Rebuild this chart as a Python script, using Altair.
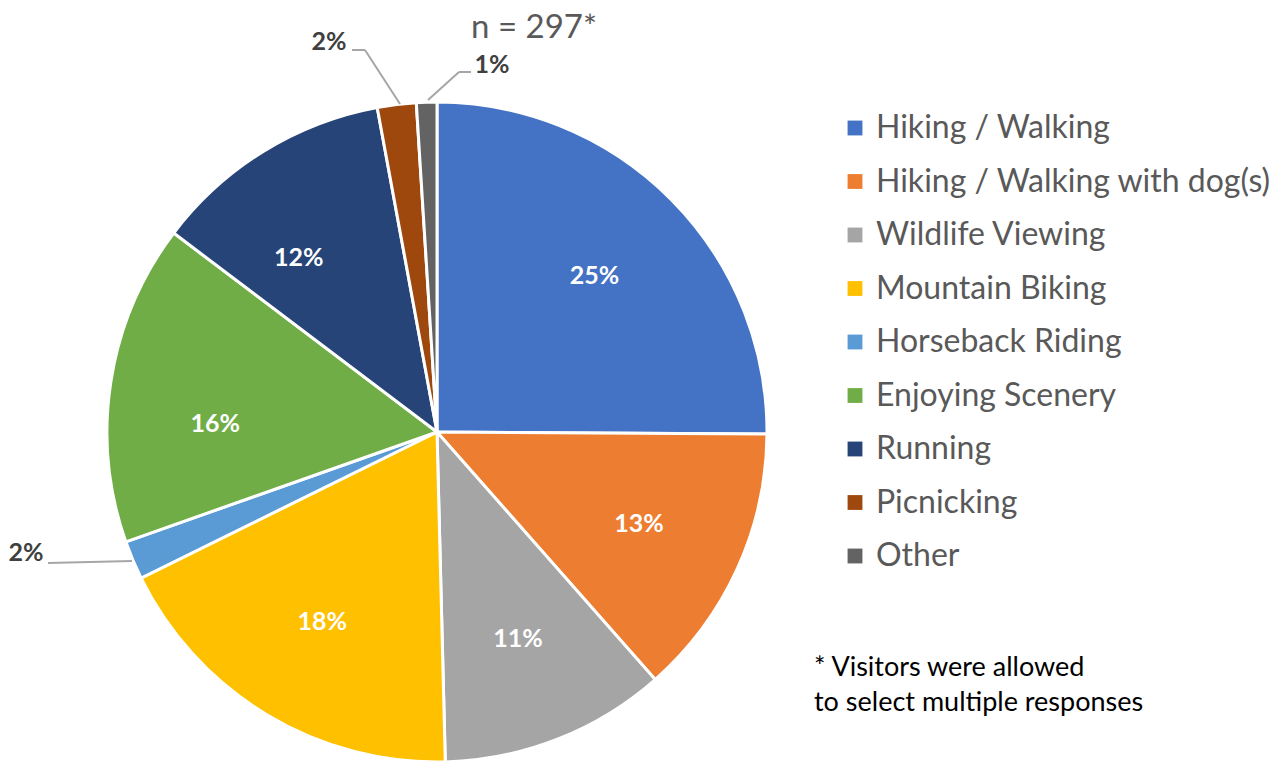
import altair as alt
import pandas as pd

categories = ["Hiking / Walking", "Hiking / Walking with dog(s)", "Wildlife Viewing",
              "Mountain Biking", "Horseback Riding", "Enjoying Scenery", "Running",
              "Picnicking", "Other"]
values = [25.1, 13.4, 11.1, 18.1, 1.9, 15.7, 11.8, 1.9, 1.0]
colors = ["#4472C4", "#ED7D31", "#A5A5A5", "#FFC000", "#5B9BD5", "#70AD47",
          "#264478", "#9E480E", "#636363"]
n_label = "n = 297*"
footnote = ["* Visitors were allowed", "to select multiple responses"]

df = pd.DataFrame({
    "category": categories,
    "value": values,
    "idx": list(range(len(categories))),
    "label": [f"{round(v)}%" for v in values],
})

CX, CY = 429, 424
R = 330
FONT = "Lato"

base = alt.Chart(df).encode(
    theta=alt.Theta("value:Q", stack=True),
    order=alt.Order("idx:Q", sort="ascending"),
    x=alt.value(CX),
    y=alt.value(CY),
)

pie = base.mark_arc(outerRadius=R, stroke="white", strokeWidth=3).encode(
    color=alt.Color(
        "category:N",
        scale=alt.Scale(domain=categories, range=colors),
        sort=categories,
        legend=alt.Legend(
            title=None, orient="none", legendX=831, legendY=104,
            symbolType="square", symbolSize=220, symbolStrokeWidth=0,
            labelFont=FONT, labelFontSize=32, labelColor="#595959",
            rowPadding=21.5, labelOffset=5, padding=0, labelLimit=600,
        ),
    )
)

inside = base.mark_text(radius=222, font=FONT, fontSize=25, fontWeight="bold",
                        color="white").encode(
    text="label:N"
).transform_filter(alt.datum.value >= 5)

def outside(cat, x, y):
    return alt.Chart(df).transform_filter(alt.datum.category == cat).mark_text(
        font=FONT, fontSize=25, fontWeight="bold", color="#404040"
    ).encode(text="label:N", x=alt.value(x), y=alt.value(y))

lbl_h = outside("Horseback Riding", 18, 545)
lbl_p = outside("Picnicking", 321, 34)
lbl_o = outside("Other", 484, 57)

seg_df = pd.DataFrame({"k": [0]})

def seg(x1, y1, x2, y2):
    return alt.Chart(seg_df).mark_rule(color="#A6A6A6", strokeWidth=2).encode(
        x=alt.value(x1), y=alt.value(y1), x2=alt.value(x2), y2=alt.value(y2)
    )

lines = [
    seg(40, 555, 124, 553),
    seg(344, 42, 357, 42),
    seg(357, 42, 392, 96),
    seg(463, 64, 451, 64),
    seg(451, 64, 420, 92),
]

ntext = alt.Chart(seg_df).mark_text(font=FONT, fontSize=33, color="#595959").encode(
    x=alt.value(526), y=alt.value(20), text=alt.value(n_label)
)

foot = alt.Chart(seg_df).mark_text(font=FONT, fontSize=27, color="#000000", align="left",
                                   baseline="top", lineHeight=35).encode(
    x=alt.value(806), y=alt.value(647), text=alt.value(footnote)
)

chart = alt.layer(pie, inside, lbl_h, lbl_p, lbl_o, *lines, ntext, foot).properties(
    width=1272, height=753,
    autosize=alt.AutoSizeParams(type="none"),
    padding=0,
).configure_view(stroke=None)

chart.save("out.html", embed_options={"renderer": "svg", "actions": False})
